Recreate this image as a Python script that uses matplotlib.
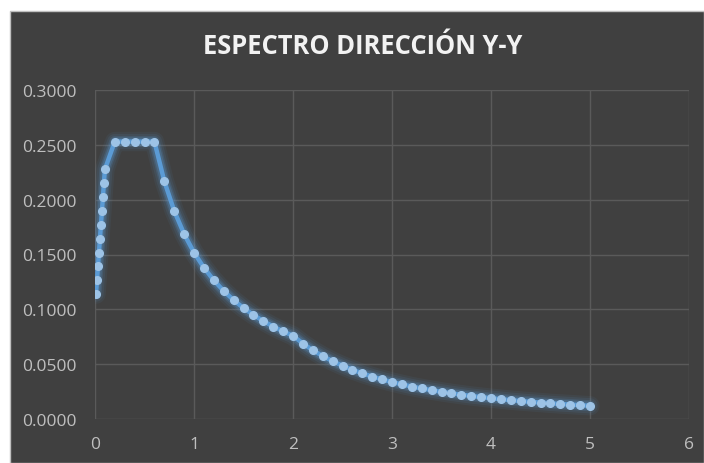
import matplotlib
matplotlib.use("Agg")
import matplotlib.pyplot as plt
from matplotlib.patches import Rectangle

# periodo T (s) y aceleracion espectral Sa/g
periodo = [0.01, 0.02, 0.03, 0.04, 0.05, 0.06, 0.07, 0.08, 0.09, 0.10,
           0.2, 0.3, 0.4, 0.5, 0.6,
           0.7, 0.8, 0.9, 1.0, 1.1, 1.2, 1.3, 1.4, 1.5, 1.6, 1.7, 1.8, 1.9, 2.0,
           2.1, 2.2, 2.3, 2.4, 2.5, 2.6, 2.7, 2.8, 2.9, 3.0,
           3.1, 3.2, 3.3, 3.4, 3.5, 3.6, 3.7, 3.8, 3.9, 4.0,
           4.1, 4.2, 4.3, 4.4, 4.5, 4.6, 4.7, 4.8, 4.9, 5.0]
sa = [0.1139, 0.1265, 0.1392, 0.1518, 0.1645, 0.1771, 0.1898, 0.2024, 0.2151, 0.2277,
      0.2530, 0.2530, 0.2530, 0.2530, 0.2530,
      0.2169, 0.1898, 0.1687, 0.1518, 0.1380, 0.1265, 0.1168, 0.1084, 0.1012, 0.0949,
      0.0893, 0.0843, 0.0799, 0.0759,
      0.0688, 0.0627, 0.0574, 0.0527, 0.0486, 0.0449, 0.0416, 0.0387, 0.0361, 0.0337,
      0.0316, 0.0296, 0.0279, 0.0263, 0.0248, 0.0234, 0.0222, 0.0210, 0.0200, 0.0190,
      0.0181, 0.0172, 0.0164, 0.0157, 0.0150, 0.0143, 0.0137, 0.0132, 0.0126, 0.0121]

titulo = "ESPECTRO DIRECCIÓN Y-Y"
xticks = [0, 1, 2, 3, 4, 5, 6]
yticks = [0.0, 0.05, 0.10, 0.15, 0.20, 0.25, 0.30]

fondo = "#404040"
W, H = 704, 464
fig = plt.figure(figsize=(W / 100, H / 100), dpi=100, facecolor="white")

# fondo oscuro del grafico (estilo Excel)
fig.patches.append(Rectangle((10 / W, 0), 1 - 10 / W, 1 - 12 / H, transform=fig.transFigure,
                             facecolor=fondo, edgecolor="#bfbfbf", linewidth=1, zorder=-10))

ax = fig.add_axes([95 / W, 1 - 420 / H, 594 / W, 329 / H])
ax.set_facecolor(fondo)
ax.patch.set_alpha(0)

# brillo alrededor de la linea
for lw, al in [(14, 0.07), (11, 0.1), (8, 0.16), (6, 0.25)]:
    ax.plot(periodo, sa, color="#5b9bd5", lw=lw, alpha=al, solid_capstyle="round",
            solid_joinstyle="round", zorder=2)
ax.plot(periodo, sa, color="#5b9bd5", lw=3.2, zorder=3)
ax.plot(periodo, sa, ls="none", marker="o", ms=5.5, mfc="#9dc3e6", mec="#9dc3e6", zorder=4)

ax.set_xlim(0, 6)
ax.set_ylim(0, 0.3)
ax.set_xticks(xticks)
ax.set_yticks(yticks)
ax.set_yticklabels([f"{v:.4f}" for v in yticks])
ax.grid(True, color="#5a5a5a", lw=1)
ax.set_axisbelow(True)
for s in ax.spines.values():
    s.set_visible(False)
ax.tick_params(length=0, colors="#bfbfbf", labelsize=12.5)
ax.tick_params(axis="x", pad=12)
ax.tick_params(axis="y", pad=13)
for lab in ax.get_xticklabels() + ax.get_yticklabels():
    lab.set_fontfamily("Open Sans")

fig.text(363 / W, 1 - 47 / H, titulo, ha="center", va="center", color="#f2f2f2",
         fontsize=18.4, fontweight="bold", family="Open Sans")

fig.savefig("out.png", dpi=100, facecolor="white")
